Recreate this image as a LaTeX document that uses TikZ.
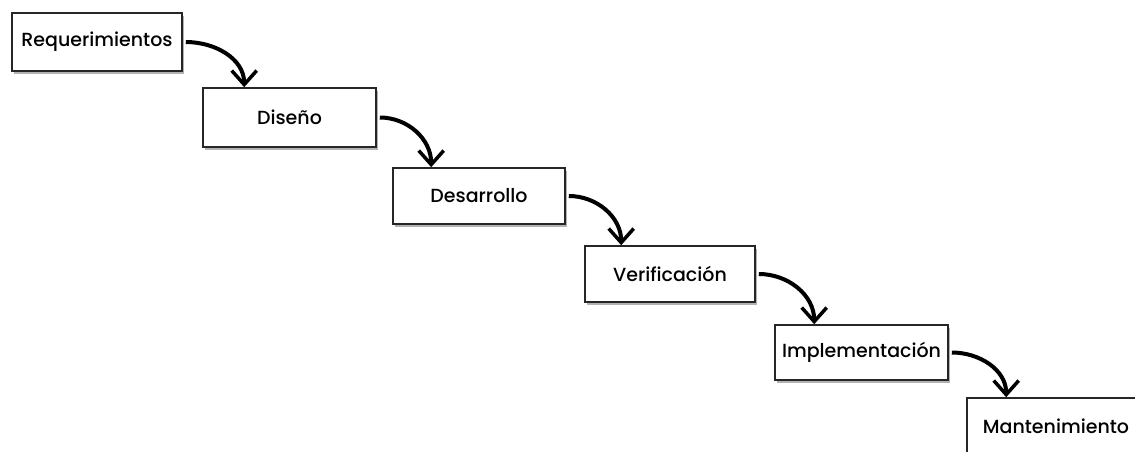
\documentclass[tikz,border=0pt]{standalone}
\usepackage{fontspec}
\setmainfont{Poppins}[UprightFont=* Medium]
\usetikzlibrary{arrows.meta,shadows}
\begin{document}
\begin{tikzpicture}[x=1pt,y=-1pt,
  phase/.style={draw=black!85, line width=1.6pt, fill=white, rectangle,
    inner sep=0pt, font=\fontsize{19}{22}\selectfont,
    drop shadow={shadow xshift=2pt, shadow yshift=-3pt, opacity=0.3, fill=black}},
  flow/.style={line width=4pt, black, -{Straight Barb[length=14pt,width=25pt,line width=3.5pt]}}]
  \useasboundingbox (0,0) rectangle (1135,452);
  \fill[white] (0,0) rectangle (1135,452);
  \node[phase, minimum width=170pt, minimum height=58pt] (req) at (97,42) {Requerimientos};
  \node[phase, minimum width=173pt, minimum height=59pt] (dis) at (289.5,117.5) {Diseño};
  \node[phase, minimum width=172pt, minimum height=56pt] (des) at (479,196) {Desarrollo};
  \node[phase, minimum width=170pt, minimum height=56pt] (ver) at (670,274) {Verificación};
  \node[phase, minimum width=173pt, minimum height=55pt] (imp) at (861.5,352.5) {Implementación};
  \node[phase, minimum width=178pt, minimum height=56pt] (man) at (1056,426) {Mantenimiento};
  \draw[flow] ([xshift=3pt]req.east) to[out=0,in=90] ([xshift=42pt]dis.north west);
  \draw[flow] ([xshift=3pt]dis.east) to[out=0,in=90] ([xshift=39pt]des.north west);
  \draw[flow] ([xshift=3pt]des.east) to[out=0,in=90] ([xshift=37pt]ver.north west);
  \draw[flow] ([xshift=3pt]ver.east) to[out=0,in=90] ([xshift=40pt]imp.north west);
  \draw[flow] ([xshift=3pt]imp.east) to[out=0,in=90] ([xshift=40pt]man.north west);
\end{tikzpicture}
\end{document}
